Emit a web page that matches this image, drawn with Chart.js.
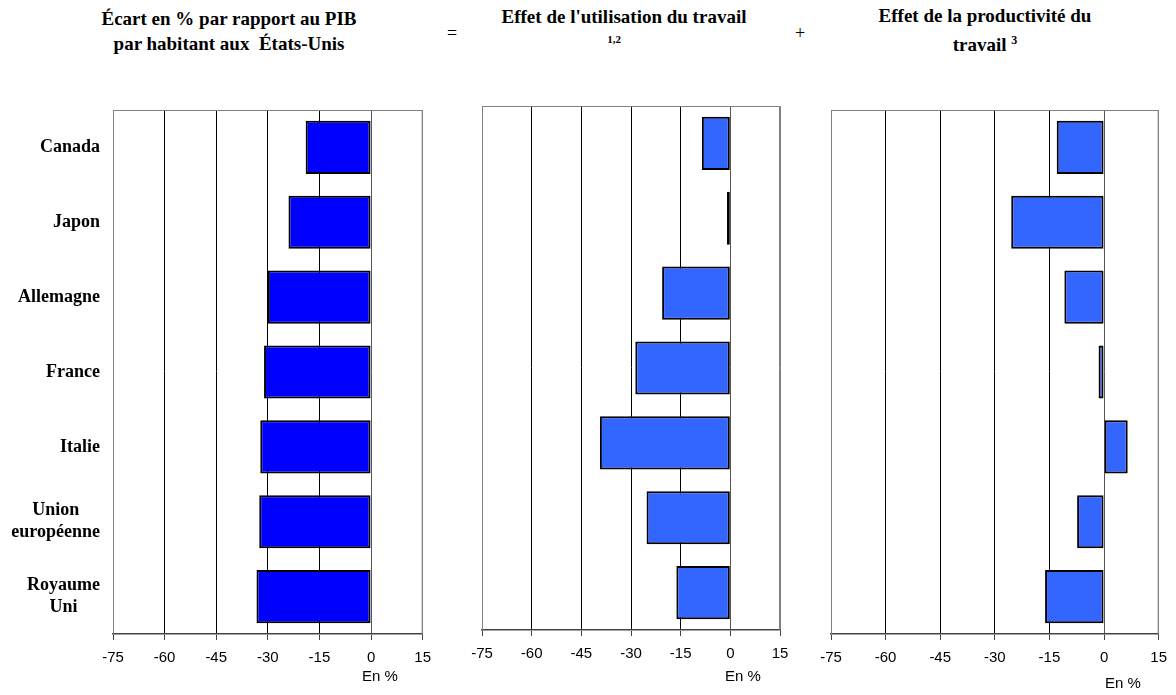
<!DOCTYPE html>
<html>
<head>
<meta charset="utf-8">
<script src="https://cdn.jsdelivr.net/npm/chart.js@4/dist/chart.umd.min.js"></script>
<style>
  html, body { margin: 0; padding: 0; background: #fff; }
  #wrap { position: relative; width: 1176px; height: 695px; overflow: hidden; }
  canvas { position: absolute; }
  .t { position: absolute; font-family: 'Liberation Serif', 'Times New Roman', serif; font-weight: bold; font-size: 19px; color: #000; white-space: nowrap; transform: translate(-50%, -50%); text-align: center; line-height: 25px; }
  .op { position: absolute; font-family: 'Liberation Serif', serif; font-size: 18px; transform: translate(-50%, -50%); }
  .en { position: absolute; font-family: 'Liberation Sans', Arial, sans-serif; font-size: 15px; transform: translate(-50%, -50%); white-space: nowrap; }
</style>
</head>
<body>
<div id="wrap">
  <div class="t" style="left:229px; top:31px;">Écart en % par rapport au PIB<br>par habitant aux&nbsp; États-Unis</div>
  <div class="op" style="left:452px; top:33px;">=</div>
  <div class="t" style="left:624px; top:16px;">Effet de l'utilisation du travail</div>
  <div class="t" style="left:614px; top:39px; font-size:11px; line-height:12px;">1,2</div>
  <div class="op" style="left:800px; top:33px;">+</div>
  <div class="t" style="left:985px; top:30px;">Effet de la productivité du<br>travail <sup style="font-size:12px; vertical-align: 7px;">3</sup></div>
  <canvas id="c1" style="left:0px; top:100px;" width="440" height="595"></canvas>
  <canvas id="c2" style="left:440px; top:100px;" width="370" height="595"></canvas>
  <canvas id="c3" style="left:810px; top:100px;" width="366" height="595"></canvas>
  <div class="en" style="left:380px; top:675px;">En %</div>
  <div class="en" style="left:743px; top:675px;">En %</div>
  <div class="en" style="left:1123px; top:682px;">En %</div>
</div>
<script>
const categories = ["Canada", "Japon", "Allemagne", "France", "Italie", ["Union", "européenne"], ["Royaume", "Uni"]];
const ecartPIB = [-19.0, -24.0, -30.0, -31.1, -32.2, -32.5, -33.3];
const effetUtilisation = [-8.6, -1.0, -20.6, -28.7, -39.4, -25.3, -16.3];
const effetProductivite = [-13.0, -25.5, -10.9, -1.5, 6.5, -7.4, -16.2];
const xTicks = [-75, -60, -45, -30, -15, 0, 15];

const frame = {
  id: 'frame',
  afterDraw(chart) {
    const a = chart.chartArea, ctx = chart.ctx;
    ctx.save();
    ctx.strokeStyle = '#808080';
    ctx.lineWidth = 1;
    ctx.beginPath();
    ctx.moveTo(a.left + 0.5, a.bottom);
    ctx.lineTo(a.left + 0.5, a.top + 0.5);
    ctx.lineTo(a.right - 0.5, a.top + 0.5);
    ctx.lineTo(a.right - 0.5, a.bottom);
    ctx.stroke();
    ctx.restore();
  }
};

const catLabels = {
  id: 'catLabels',
  afterDraw(chart, args, opts) {
    if (!opts.show) return;
    const ctx = chart.ctx, y = chart.scales.y;
    ctx.save();
    ctx.font = 'bold 18px "Liberation Serif", "Times New Roman", serif';
    ctx.fillStyle = '#000';
    ctx.textAlign = 'center';
    ctx.textBaseline = 'middle';
    const lh = 22;
    categories.forEach((c, i) => {
      const lines = Array.isArray(c) ? c : [c];
      const w = Math.max(...lines.map(l => ctx.measureText(l).width));
      const cx = opts.right - w / 2;
      const cy = y.getPixelForValue(i);
      lines.forEach((l, k) => {
        ctx.fillText(l, cx, cy + (k - (lines.length - 1) / 2) * lh);
      });
    });
    ctx.restore();
  }
};

function makeChart(id, data, color, padL, padR, padT, showLabels) {
  new Chart(document.getElementById(id), {
    type: 'bar',
    data: {
      labels: categories,
      datasets: [{
        data: data,
        backgroundColor: color,
        borderColor: '#000',
        borderWidth: 2,
        borderSkipped: false,
        barPercentage: 0.71,
        categoryPercentage: 1.0
      }]
    },
    options: {
      indexAxis: 'y',
      responsive: false,
      animation: false,
      events: [],
      layout: { padding: { left: padL, right: padR, top: padT, bottom: 0 } },
      plugins: {
        legend: { display: false },
        tooltip: { enabled: false },
        catLabels: { show: showLabels, right: 100 }
      },
      scales: {
        x: {
          type: 'linear',
          min: -75, max: 15,
          afterBuildTicks: (s) => { s.ticks = xTicks.map(v => ({ value: v })); },
          afterFit: (s) => { s.height = 595 - padT - 524; },
          ticks: {
            color: '#000',
            font: { family: '"Liberation Sans", Arial, sans-serif', size: 15 },
            padding: 9,
            maxRotation: 0,
            callback: (v) => String(v)
          },
          grid: {
            color: (c) => {
              const v = c.tick ? c.tick.value : null;
              if (v === -75 || v === 15) return '#808080';
              if (v === 0) return '#555';
              return '#000';
            },
            tickColor: '#444',
            tickLength: 6,
            drawTicks: true,
            lineWidth: 1
          },
          border: { display: true, color: '#444', width: 1.5 }
        },
        y: {
          display: false,
          grid: { display: false }
        }
      }
    },
    plugins: [frame, catLabels]
  });
}

makeChart('c1', ecartPIB, '#0000FF', 113, 11, 10, true);
makeChart('c2', effetUtilisation, '#3366FF', 42, 30, 6, false);
makeChart('c3', effetProductivite, '#3366FF', 21, 7, 10, false);
</script>
</body>
</html>
